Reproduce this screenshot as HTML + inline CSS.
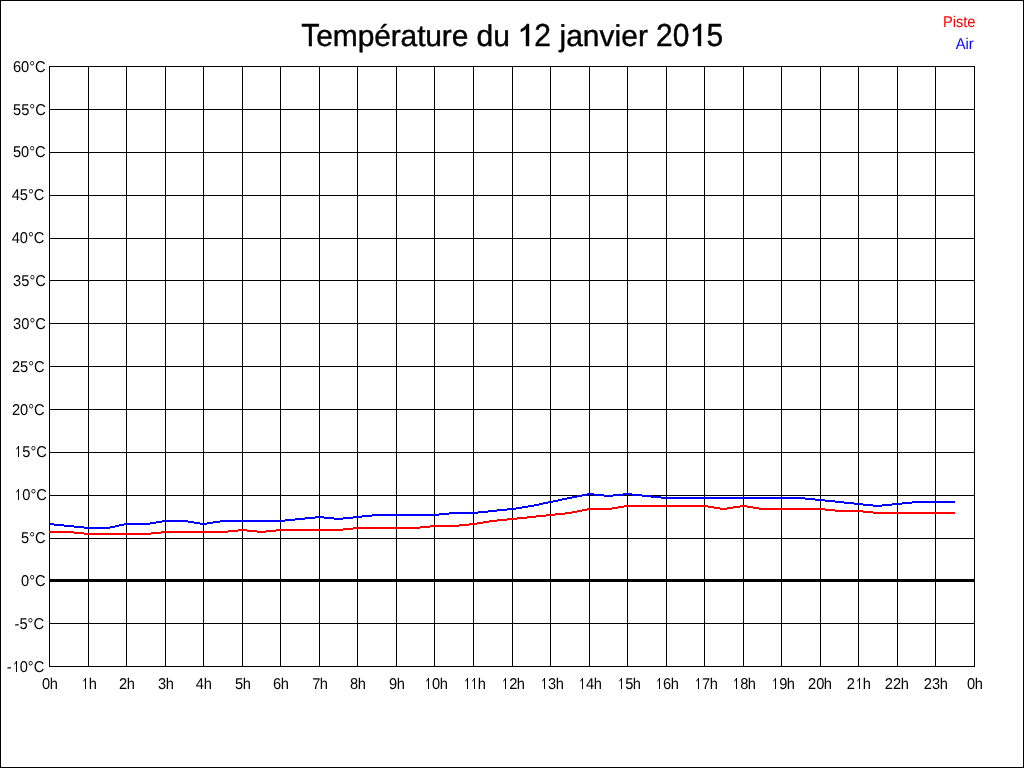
<!DOCTYPE html>
<html><head><meta charset="utf-8"><style>
html,body{margin:0;padding:0;background:#fff;}
body{width:1024px;height:768px;overflow:hidden;position:relative;}
svg{position:absolute;left:0;top:0;display:block;}
text{font-family:"Liberation Sans",sans-serif;text-rendering:geometricPrecision;}
</style></head><body>
<svg width="1024" height="768" viewBox="0 0 1024 768">
<rect x="0" y="0" width="1024" height="768" fill="#fff"/>
<path d="M0 0h1024v768h-1024z M1 1v766h1022v-766z" fill="#000" fill-rule="evenodd" shape-rendering="crispEdges"/>
<path d="M49 66h1v601h-1zM88 66h1v601h-1zM126 66h1v601h-1zM165 66h1v601h-1zM203 66h1v601h-1zM242 66h1v601h-1zM280 66h1v601h-1zM319 66h1v601h-1zM357 66h1v601h-1zM396 66h1v601h-1zM434 66h1v601h-1zM473 66h1v601h-1zM512 66h1v601h-1zM550 66h1v601h-1zM589 66h1v601h-1zM627 66h1v601h-1zM666 66h1v601h-1zM704 66h1v601h-1zM743 66h1v601h-1zM781 66h1v601h-1zM820 66h1v601h-1zM858 66h1v601h-1zM897 66h1v601h-1zM935 66h1v601h-1zM974 66h1v601h-1zM49 66h926v1h-926zM49 109h926v1h-926zM49 152h926v1h-926zM49 195h926v1h-926zM49 238h926v1h-926zM49 280h926v1h-926zM49 323h926v1h-926zM49 366h926v1h-926zM49 409h926v1h-926zM49 452h926v1h-926zM49 495h926v1h-926zM49 538h926v1h-926zM49 579h926v3h-926zM49 623h926v1h-926zM49 666h926v1h-926z" fill="#000" shape-rendering="crispEdges"/>
<path d="M49 531h25v2h-25zM74 532h10v2h-10zM84 533h67v2h-67zM151 532h10v2h-10zM161 531h67v2h-67zM228 530h10v2h-10zM238 529h9v2h-9zM247 530h10v2h-10zM257 531h9v2h-9zM266 530h10v2h-10zM276 529h67v2h-67zM343 528h10v2h-10zM353 527h67v2h-67zM420 526h10v2h-10zM430 525h29v2h-29zM459 524h10v2h-10zM469 523h8v2h-8zM477 522h6v2h-6zM483 521h6v2h-6zM489 520h8v2h-8zM497 519h10v2h-10zM507 518h10v2h-10zM517 517h10v2h-10zM527 516h9v2h-9zM536 515h10v2h-10zM546 514h9v2h-9zM555 513h10v2h-10zM565 512h7v2h-7zM572 511h5v2h-5zM577 510h5v2h-5zM582 509h5v2h-5zM587 508h25v2h-25zM612 507h6v2h-6zM618 506h6v2h-6zM624 505h84v2h-84zM708 506h6v2h-6zM714 507h6v2h-6zM720 508h7v2h-7zM727 507h6v2h-6zM733 506h7v2h-7zM740 505h7v2h-7zM747 506h6v2h-6zM753 507h6v2h-6zM759 508h66v2h-66zM825 509h10v2h-10zM835 510h28v2h-28zM863 511h10v2h-10zM873 512h82v2h-82z" fill="#f00" shape-rendering="crispEdges"/>
<path d="M49 523h5v2h-5zM54 524h10v2h-10zM64 525h10v2h-10zM74 526h10v2h-10zM84 527h26v2h-26zM110 526h5v2h-5zM115 525h4v2h-4zM119 524h5v2h-5zM124 523h26v2h-26zM150 522h6v2h-6zM156 521h6v2h-6zM162 520h26v2h-26zM188 521h6v2h-6zM194 522h6v2h-6zM200 523h7v2h-7zM207 522h6v2h-6zM213 521h7v2h-7zM220 520h65v2h-65zM285 519h10v2h-10zM295 518h10v2h-10zM305 517h10v2h-10zM315 516h9v2h-9zM324 517h10v2h-10zM334 518h9v2h-9zM343 517h10v2h-10zM353 516h9v2h-9zM362 515h10v2h-10zM372 514h67v2h-67zM439 513h10v2h-10zM449 512h29v2h-29zM478 511h10v2h-10zM488 510h9v2h-9zM497 509h10v2h-10zM507 508h9v2h-9zM516 507h6v2h-6zM522 506h6v2h-6zM528 505h6v2h-6zM534 504h5v2h-5zM539 503h4v2h-4zM543 502h5v2h-5zM548 501h5v2h-5zM553 500h5v2h-5zM558 499h4v2h-4zM562 498h5v2h-5zM567 497h5v2h-5zM572 496h5v2h-5zM577 495h5v2h-5zM582 494h5v2h-5zM587 493h7v2h-7zM594 494h10v2h-10zM604 495h9v2h-9zM613 494h10v2h-10zM623 493h9v2h-9zM632 494h10v2h-10zM642 495h9v2h-9zM651 496h10v2h-10zM661 497h144v2h-144zM805 498h10v2h-10zM815 499h10v2h-10zM825 500h10v2h-10zM835 501h9v2h-9zM844 502h10v2h-10zM854 503h9v2h-9zM863 504h10v2h-10zM873 505h9v2h-9zM882 504h10v2h-10zM892 503h10v2h-10zM902 502h10v2h-10zM912 501h43v2h-43z" fill="#00f" shape-rendering="crispEdges"/>
<g style="will-change:transform">
<g font-size="30" fill="#000" stroke="#000" stroke-width="0.4">
<text transform="translate(301.33 46) scale(1 1.063)">T</text>
<text x="316.33" y="46" letter-spacing="-0.15">empérature</text>
<text x="476.5" y="46">du</text>
<path d="M529 46L526 46L526 28.61Q525.19 29.55 523.64 30.49Q522.10 31.43 520.87 31.90L520.87 29.26Q523.08 28.19 524.71 26.68Q526.35 25.18 527.09 23.77L527.09 24L529 24Z"/>
<text transform="translate(534.3 46) scale(1 1.063)">2</text>
<text x="559.5" y="46">janvier</text>
<text transform="translate(655.9 46) scale(1 1.063)" letter-spacing="0.25">20</text>
<path d="M701 46L698 46L698 28.61Q697.29 29.55 695.74 30.49Q694.20 31.43 692.97 31.90L692.97 29.26Q695.18 28.19 696.81 26.68Q698.45 25.18 699.19 23.77L699.19 24L701 24Z"/>
<text transform="translate(706.6 46) scale(1 1.063)">5</text>
</g>
<g font-size="14.67" fill="#000">
<g transform="translate(12.95 72) scale(1 1.07)"><text x="0.00" y="0">60°C</text></g>
<g transform="translate(12.98 115) scale(1 1.07)"><text x="0.00" y="0">55°C</text></g>
<g transform="translate(12.95 157) scale(1 1.07)"><text x="0.00" y="0">50°C</text></g>
<g transform="translate(11.67 200) scale(1 1.07)"><text x="0.00" y="0">45°C</text></g>
<g transform="translate(11.67 243) scale(1 1.07)"><text x="0.00" y="0">40°C</text></g>
<g transform="translate(13.11 286) scale(1 1.07)"><text x="0.00" y="0">35°C</text></g>
<g transform="translate(13.11 329) scale(1 1.07)"><text x="0.00" y="0">30°C</text></g>
<g transform="translate(11.92 372) scale(1 1.07)"><text x="0.00" y="0">25°C</text></g>
<g transform="translate(11.92 415) scale(1 1.07)"><text x="0.00" y="0">20°C</text></g>
<g transform="translate(14.09 457) scale(1 1.07)"><text x="8.16" y="0">5°C</text></g><path d="M18 446h1v11h-1z"/><path d="M18.5 446.4L16.4 449.4" stroke="#000" stroke-width="1.0" fill="none"/>
<g transform="translate(14.09 500) scale(1 1.07)"><text x="8.16" y="0">0°C</text></g><path d="M18 489h1v11h-1z"/><path d="M18.5 489.4L16.4 492.4" stroke="#000" stroke-width="1.0" fill="none"/>
<g transform="translate(21.03 543) scale(1 1.07)"><text x="0.00" y="0">5°C</text></g>
<g transform="translate(21.03 586) scale(1 1.07)"><text x="0.00" y="0">0°C</text></g>
<g transform="translate(14.55 629) scale(1 1.07)"><text x="0.00" y="0">-5°C</text></g>
<g transform="translate(6.67 672) scale(1 1.07)"><text x="0.00" y="0">-</text><text x="13.04" y="0">0°C</text></g><path d="M16 661h1v11h-1z"/><path d="M16.5 661.4L14.4 664.4" stroke="#000" stroke-width="1.0" fill="none"/>
<g transform="translate(42.11 689) scale(1 1.07)"><text x="0.00" y="0">0</text><text x="7.73" y="0">h</text></g>
<g transform="translate(81.10 689) scale(1 1.07)"><text x="7.74" y="0">h</text></g><path d="M85 678h1v11h-1z"/><path d="M85.5 678.4L83.4 681.4" stroke="#000" stroke-width="1.0" fill="none"/>
<g transform="translate(118.88 689) scale(1 1.07)"><text x="0.00" y="0">2</text><text x="7.96" y="0">h</text></g>
<g transform="translate(158.12 689) scale(1 1.07)"><text x="0.00" y="0">3</text><text x="7.72" y="0">h</text></g>
<g transform="translate(195.65 689) scale(1 1.07)"><text x="0.00" y="0">4</text><text x="8.19" y="0">h</text></g>
<g transform="translate(234.95 689) scale(1 1.07)"><text x="0.00" y="0">5</text><text x="7.89" y="0">h</text></g>
<g transform="translate(272.95 689) scale(1 1.07)"><text x="0.00" y="0">6</text><text x="7.89" y="0">h</text></g>
<g transform="translate(312.14 689) scale(1 1.07)"><text x="0.00" y="0">7</text><text x="7.70" y="0">h</text></g>
<g transform="translate(350.00 689) scale(1 1.07)"><text x="0.00" y="0">8</text><text x="7.84" y="0">h</text></g>
<g transform="translate(389.02 689) scale(1 1.07)"><text x="0.00" y="0">9</text><text x="7.82" y="0">h</text></g>
<g transform="translate(423.79 689) scale(1 1.07)"><text x="8.16" y="0">0</text><text x="16.05" y="0">h</text></g><path d="M428 678h1v11h-1z"/><path d="M428.5 678.4L426.4 681.4" stroke="#000" stroke-width="1.0" fill="none"/>
<g transform="translate(462.98 689) scale(1 1.07)"><text x="14.86" y="0">h</text></g><path d="M467 678h1v11h-1z"/><path d="M467.5 678.4L465.4 681.4" stroke="#000" stroke-width="1.0" fill="none"/><path d="M474 678h1v11h-1z"/><path d="M474.5 678.4L472.4 681.4" stroke="#000" stroke-width="1.0" fill="none"/>
<g transform="translate(501.04 689) scale(1 1.07)"><text x="8.16" y="0">2</text><text x="15.80" y="0">h</text></g><path d="M505 678h1v11h-1z"/><path d="M505.5 678.4L503.4 681.4" stroke="#000" stroke-width="1.0" fill="none"/>
<g transform="translate(539.79 689) scale(1 1.07)"><text x="8.16" y="0">3</text><text x="16.05" y="0">h</text></g><path d="M544 678h1v11h-1z"/><path d="M544.5 678.4L542.4 681.4" stroke="#000" stroke-width="1.0" fill="none"/>
<g transform="translate(577.94 689) scale(1 1.07)"><text x="8.16" y="0">4</text><text x="15.90" y="0">h</text></g><path d="M582 678h1v11h-1z"/><path d="M582.5 678.4L580.4 681.4" stroke="#000" stroke-width="1.0" fill="none"/>
<g transform="translate(617.04 689) scale(1 1.07)"><text x="8.16" y="0">5</text><text x="15.80" y="0">h</text></g><path d="M621 678h1v11h-1z"/><path d="M621.5 678.4L619.4 681.4" stroke="#000" stroke-width="1.0" fill="none"/>
<g transform="translate(654.94 689) scale(1 1.07)"><text x="8.16" y="0">6</text><text x="15.90" y="0">h</text></g><path d="M659 678h1v11h-1z"/><path d="M659.5 678.4L657.4 681.4" stroke="#000" stroke-width="1.0" fill="none"/>
<g transform="translate(693.79 689) scale(1 1.07)"><text x="8.16" y="0">7</text><text x="16.05" y="0">h</text></g><path d="M698 678h1v11h-1z"/><path d="M698.5 678.4L696.4 681.4" stroke="#000" stroke-width="1.0" fill="none"/>
<g transform="translate(732.07 689) scale(1 1.07)"><text x="8.16" y="0">8</text><text x="15.77" y="0">h</text></g><path d="M736 678h1v11h-1z"/><path d="M736.5 678.4L734.4 681.4" stroke="#000" stroke-width="1.0" fill="none"/>
<g transform="translate(771.02 689) scale(1 1.07)"><text x="8.16" y="0">9</text><text x="15.82" y="0">h</text></g><path d="M775 678h1v11h-1z"/><path d="M775.5 678.4L773.4 681.4" stroke="#000" stroke-width="1.0" fill="none"/>
<g transform="translate(808.00 689) scale(1 1.07)"><text x="0.00" y="0">20</text><text x="15.84" y="0">h</text></g>
<g transform="translate(846.87 689) scale(1 1.07)"><text x="0.00" y="0">2</text><text x="15.97" y="0">h</text></g><path d="M859 678h1v11h-1z"/><path d="M859.5 678.4L857.4 681.4" stroke="#000" stroke-width="1.0" fill="none"/>
<g transform="translate(884.82 689) scale(1 1.07)"><text x="0.00" y="0">22</text><text x="16.02" y="0">h</text></g>
<g transform="translate(923.87 689) scale(1 1.07)"><text x="0.00" y="0">23</text><text x="15.97" y="0">h</text></g>
<g transform="translate(967.03 689) scale(1 1.07)"><text x="0.00" y="0">0</text><text x="7.81" y="0">h</text></g>
</g>
<text transform="translate(942.9 27) scale(1 1.07)" font-size="14.67" fill="#f00">Piste</text>
<text transform="translate(955.7 49) scale(1 1.07)" font-size="14.67" fill="#00f">Air</text>
</g>
</svg>
</body></html>
